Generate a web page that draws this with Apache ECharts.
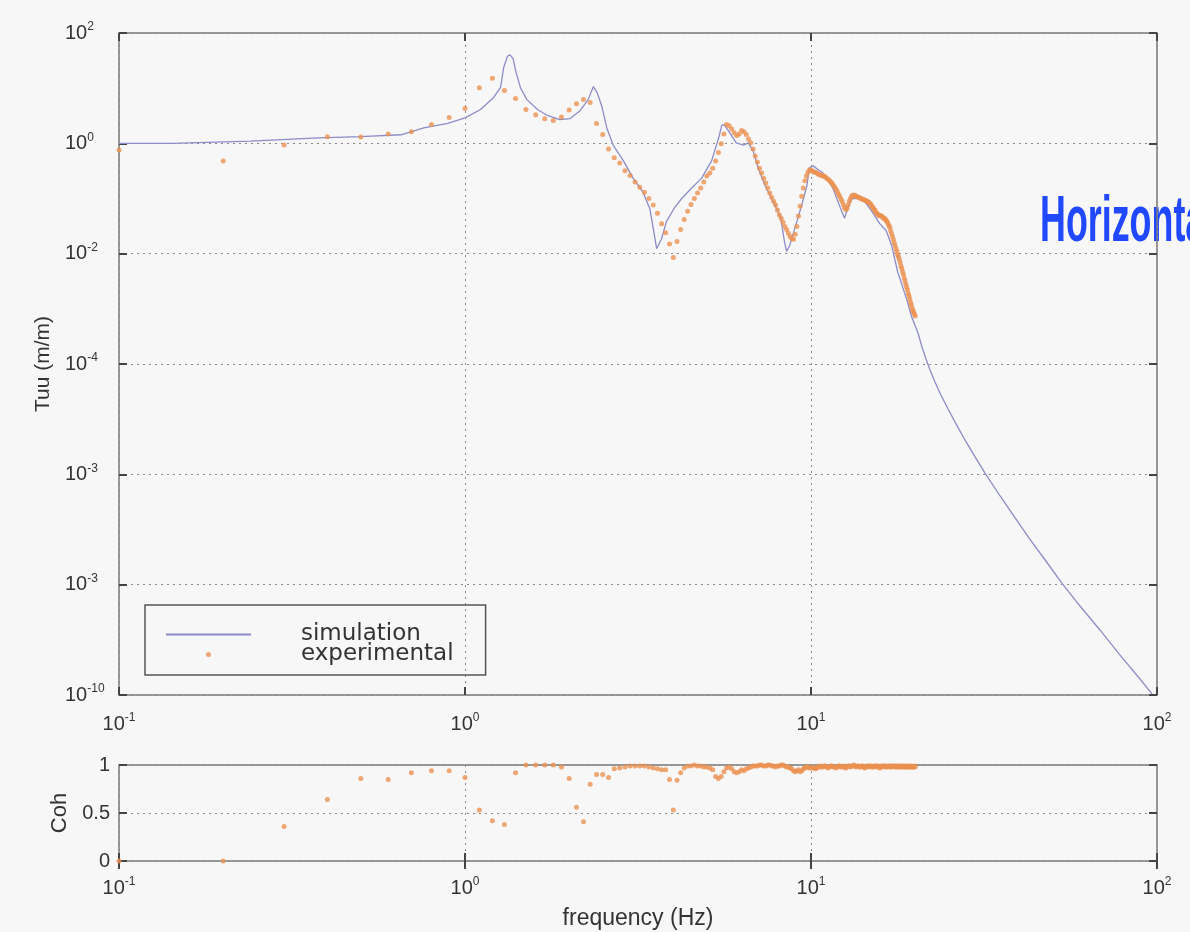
<!DOCTYPE html>
<html>
<head>
<meta charset="utf-8">
<script src="https://cdn.jsdelivr.net/npm/echarts@6/dist/echarts.min.js"></script>
<style>
  html, body { margin: 0; padding: 0; background: #f7f7f7; }
  #chart { width: 1190px; height: 932px; }
</style>
</head>
<body>
<div id="chart"></div>
<script>
// ---------- data ----------
// x tick exponents / superscripts (base 10)
const xTickExps = [-1, 0, 1, 2];
const xTickSup = ['-1', '0', '1', '2'];
// y tick exponents / superscripts as printed on the figure
const yTickExps = [-10, -8, -6, -4, -2, 0, 2];
const yTickSup = ['-10', '-3', '-3', '-4', '-2', '0', '2'];
const cohTicks = [0, 0.5, 1];

// simulation curve (frequency Hz, Tuu)
const simFreq = [0.1, 0.142, 0.24, 0.377, 0.5, 0.653, 0.76, 0.892, 1.0, 1.109, 1.21, 1.267, 1.294, 1.327, 1.35, 1.378, 1.40, 1.446, 1.51, 1.62, 1.73, 1.88, 2.01, 2.15, 2.27, 2.35, 2.41, 2.49, 2.57, 2.68, 2.87, 3.06, 3.26, 3.42, 3.49, 3.58, 3.70, 3.82, 4.02, 4.23, 4.52, 4.83, 5.16, 5.41, 5.52, 5.6, 5.77, 6.08, 6.38, 6.59, 6.81, 7.04, 7.36, 7.77, 8.18, 8.38, 8.50, 8.68, 8.98, 9.4, 9.74, 9.87, 10.13, 10.83, 11.56, 12.26, 12.51, 12.76, 13.1, 14.1, 14.98, 15.8, 16.5, 17.1, 17.8, 18.9, 19.5, 20.38, 20.93, 21.5, 22.08, 22.82, 23.59, 24.9, 26.25, 27.86, 29.8, 31.8, 35.2, 38.9, 42.9, 47.5, 53.1, 59.9, 68.4, 78.2, 89.3, 96.7];
const simTuu = [1.0, 1.0, 1.1, 1.26, 1.32, 1.43, 1.9, 2.3, 2.9, 4.1, 6.8, 10.3, 24, 38, 40, 34, 21, 10.2, 6.2, 4.1, 3.2, 2.7, 2.8, 3.9, 6.2, 10.7, 8.3, 4.5, 1.9, 0.93, 0.48, 0.234, 0.135, 0.066, 0.032, 0.0123, 0.0186, 0.038, 0.066, 0.10, 0.155, 0.234, 0.48, 1.26, 2.09, 2.19, 1.70, 1.02, 0.93, 1.02, 0.72, 0.355, 0.174, 0.089, 0.044, 0.0166, 0.011, 0.0141, 0.0288, 0.076, 0.174, 0.355, 0.39, 0.29, 0.155, 0.059, 0.044, 0.066, 0.10, 0.10, 0.059, 0.035, 0.026, 0.0141, 0.0047, 0.0015, 7.4e-4, 3.65e-4, 2.03e-4, 1.23e-4, 7.8e-5, 4.72e-5, 2.99e-5, 1.53e-5, 8.2e-6, 4.2e-6, 2.07e-6, 1.06e-6, 4.05e-7, 1.62e-7, 6.7e-8, 2.8e-8, 1.07e-8, 4.1e-9, 1.51e-9, 5.3e-10, 1.95e-10, 1.05e-10];

// experimental points (0.1 Hz spacing)
const expFreq = [
  0.1, 0.2, 0.3, 0.4, 0.5, 0.6, 0.7, 0.8, 0.9, 1.0,
  1.1, 1.2, 1.3, 1.4, 1.5, 1.6, 1.7, 1.8, 1.9, 2.0,
  2.1, 2.2, 2.3, 2.4, 2.5, 2.6, 2.7, 2.8, 2.9, 3.0,
  3.1, 3.2, 3.3, 3.4, 3.5, 3.6, 3.7, 3.8, 3.9, 4.0,
  4.1, 4.2, 4.3, 4.4, 4.5, 4.6, 4.7, 4.8, 4.9, 5.0,
  5.1, 5.2, 5.3, 5.4, 5.5, 5.6, 5.7, 5.8, 5.9, 6.0,
  6.1, 6.2, 6.3, 6.4, 6.5, 6.6, 6.7, 6.8, 6.9, 7.0,
  7.1, 7.2, 7.3, 7.4, 7.5, 7.6, 7.7, 7.8, 7.9, 8.0,
  8.1, 8.2, 8.3, 8.4, 8.5, 8.6, 8.7, 8.8, 8.9, 9.0,
  9.1, 9.2, 9.3, 9.4, 9.5, 9.6, 9.7, 9.8, 9.9, 10.0,
  10.1, 10.2, 10.3, 10.4, 10.5, 10.6, 10.7, 10.8, 10.9, 11.0,
  11.1, 11.2, 11.3, 11.4, 11.5, 11.6, 11.7, 11.8, 11.9, 12.0,
  12.1, 12.2, 12.3, 12.4, 12.5, 12.6, 12.7, 12.8, 12.9, 13.0,
  13.1, 13.2, 13.3, 13.4, 13.5, 13.6, 13.7, 13.8, 13.9, 14.0,
  14.1, 14.2, 14.3, 14.4, 14.5, 14.6, 14.7, 14.8, 14.9, 15.0,
  15.1, 15.2, 15.3, 15.4, 15.5, 15.6, 15.7, 15.8, 15.9, 16.0,
  16.1, 16.2, 16.3, 16.4, 16.5, 16.6, 16.7, 16.8, 16.9, 17.0,
  17.1, 17.2, 17.3, 17.4, 17.5, 17.6, 17.7, 17.8, 17.9, 18.0,
  18.1, 18.2, 18.3, 18.4, 18.5, 18.6, 18.7, 18.8, 18.9, 19.0,
  19.1, 19.2, 19.3, 19.4, 19.5, 19.6, 19.7, 19.8, 19.9, 20.0
];
const expTuu = [
  0.76, 0.48, 0.93, 1.32, 1.30, 1.48, 1.62, 2.19, 2.95, 4.27,
  10.2, 15.1, 9.1, 6.5, 4.1, 3.3, 2.8, 2.6, 3.0, 4.0,
  5.2, 6.2, 5.5, 2.3, 1.45, 0.79, 0.55, 0.44, 0.32, 0.26,
  0.20, 0.16, 0.13, 0.10, 0.076, 0.054, 0.035, 0.024, 0.015, 0.0085,
  0.0166, 0.0275, 0.0417, 0.059, 0.078, 0.100, 0.126, 0.155, 0.20, 0.257,
  0.29, 0.355, 0.48, 0.68, 0.98, 1.48, 2.19, 2.09, 1.82, 1.55,
  1.38, 1.48, 1.70, 1.62, 1.45, 1.20, 1.02, 0.79, 0.59, 0.46,
  0.355, 0.29, 0.234, 0.19, 0.155, 0.126, 0.105, 0.089, 0.076, 0.062,
  0.051, 0.044, 0.037, 0.031, 0.0275, 0.0234, 0.0204, 0.0186, 0.0182, 0.0224,
  0.031, 0.048, 0.072, 0.11, 0.155, 0.21, 0.257, 0.30, 0.33, 0.33,
  0.316, 0.30, 0.30, 0.29, 0.275, 0.27, 0.263, 0.257, 0.255, 0.245,
  0.234, 0.224, 0.214, 0.20, 0.19, 0.174, 0.162, 0.148, 0.135, 0.12,
  0.11, 0.098, 0.089, 0.078, 0.069, 0.063, 0.066, 0.076, 0.089, 0.10,
  0.11, 0.115, 0.115, 0.114, 0.11, 0.108, 0.105, 0.104, 0.10, 0.099,
  0.097, 0.096, 0.093, 0.092, 0.089, 0.088, 0.085, 0.081, 0.078, 0.072,
  0.069, 0.063, 0.062, 0.056, 0.054, 0.052, 0.049, 0.049, 0.048, 0.048,
  0.046, 0.044, 0.044, 0.042, 0.040, 0.038, 0.035, 0.032, 0.030, 0.026,
  0.023, 0.0204, 0.018, 0.0158, 0.0141, 0.0123, 0.011, 0.0096, 0.0088, 0.0078,
  0.0069, 0.0060, 0.0054, 0.0047, 0.0042, 0.0036, 0.0032, 0.0028, 0.0025, 0.0022,
  0.0019, 0.0017, 0.0015, 0.0013, 0.00117, 0.00102, 0.00093, 0.00087, 0.00081, 0.00074
];
const expCoh = [
  0.0, 0.0, 0.36, 0.64, 0.86, 0.85, 0.92, 0.94, 0.94, 0.87,
  0.53, 0.42, 0.38, 0.92, 1.0, 1.0, 1.0, 1.0, 0.98, 0.86,
  0.56, 0.41, 0.80, 0.90, 0.90, 0.87, 0.96, 0.97, 0.98, 0.99,
  0.99, 0.99, 0.99, 0.98, 0.97, 0.96, 0.95, 0.95, 0.85, 0.53,
  0.84, 0.92, 0.97, 0.99, 0.99, 1.0, 0.99, 0.99, 0.98, 0.98,
  0.97, 0.95, 0.88, 0.86, 0.88, 0.93, 0.97, 0.98, 0.96, 0.93,
  0.92, 0.93, 0.95, 0.94, 0.96, 0.97, 0.98, 0.99, 0.99, 0.99,
  1.0, 1.0, 0.99, 0.99, 1.0, 1.0, 0.99, 0.99, 0.98, 0.99,
  0.99, 1.0, 1.0, 0.99, 0.98, 0.98, 0.97, 0.96, 0.94, 0.93,
  0.94, 0.95, 0.93, 0.94, 0.96, 0.97, 0.98, 0.98, 0.97, 0.97,
  0.98, 0.97, 0.96, 0.97, 0.98, 0.99, 0.98, 0.98, 0.99, 0.99,
  0.98, 0.97, 0.98, 0.99, 0.99, 0.98, 0.98, 0.97, 0.98, 0.99,
  0.99, 0.98, 0.98, 0.99, 0.98, 0.97, 0.98, 0.99, 0.99, 0.98,
  0.99, 0.99, 1.0, 0.99, 0.98, 0.99, 0.99, 0.98, 0.98, 0.99,
  0.99, 0.98, 0.97, 0.98, 0.99, 0.99, 0.98, 0.99, 0.99, 0.98,
  0.98, 0.99, 0.99, 0.98, 0.99, 0.99, 0.98, 0.97, 0.98, 0.99,
  0.99, 0.98, 0.99, 0.99, 0.98, 0.98, 0.99, 0.99, 0.98, 0.98,
  0.99, 0.99, 0.98, 0.99, 0.99, 0.98, 0.98, 0.99, 0.99, 0.98,
  0.98, 0.99, 0.99, 0.98, 0.98, 0.99, 0.98, 0.98, 0.99, 0.98,
  0.98, 0.99, 0.98, 0.98, 0.99, 0.98, 0.98, 0.98, 0.99, 0.98
];

// ---------- chart ----------
const FONT = "'Liberation Sans', Arial, Helvetica, sans-serif";
const LEG_FONT = "'DejaVu Sans', 'Liberation Sans', sans-serif";
const TXT = '#333333';
const SIM_COLOR = '#8c8cc8';
const EXP_COLOR = '#eb9150';

const rich = {
  b: { fontSize: 20, fontFamily: FONT, color: TXT, lineHeight: 24 },
  s: { fontSize: 12, fontFamily: FONT, color: TXT, lineHeight: 12, verticalAlign: 'top' }
};
function xLab(v) {
  const e = Math.round(Math.log10(v));
  const i = xTickExps.indexOf(e);
  return '{b|10}{s|' + (i >= 0 ? xTickSup[i] : e) + '}';
}
function yLab(v) {
  const e = Math.round(Math.log10(v));
  const i = yTickExps.indexOf(e);
  return '{b|10}{s|' + (i >= 0 ? yTickSup[i] : e) + '}';
}

const gridLine = { show: true, lineStyle: { color: '#8a8a8a', width: 1, type: [2, 4] } };
const tickIn = { show: true, inside: true, length: 8, lineStyle: { color: '#444', width: 2 } };

const G0 = { left: 119, top: 33, width: 1038, height: 662 };
const G1 = { left: 119, top: 765, width: 1038, height: 96 };

const logX = (gi, extra) => Object.assign({
  type: 'log', logBase: 10, gridIndex: gi, min: 0.1, max: 100, interval: 1,
  axisLine: { show: false }, axisTick: tickIn, splitLine: gridLine,
  minorTick: { show: false }, minorSplitLine: { show: false }
}, extra);

const option = {
  backgroundColor: '#f7f7f7',
  animation: false,
  grid: [
    Object.assign({ show: true, borderColor: '#7a7a7a', borderWidth: 1.5, backgroundColor: 'transparent' }, G0),
    Object.assign({ show: true, borderColor: '#7a7a7a', borderWidth: 1.5, backgroundColor: 'transparent' }, G1)
  ],
  legend: {
    orient: 'vertical',
    left: 145, top: 605,
    padding: [18, 32, 9, 20],
    borderColor: '#555', borderWidth: 1.5,
    itemWidth: 85, itemHeight: 5, itemGap: -3,
    selectedMode: false,
    data: [
      { name: 'simulation', itemStyle: { opacity: 0 } },
      { name: 'experimental' }
    ],
    textStyle: { fontFamily: LEG_FONT, fontSize: 23, color: TXT, padding: [0, 0, 0, 45] }
  },
  xAxis: [
    logX(0, { position: 'bottom', axisLabel: { formatter: xLab, rich: rich, margin: 17, showMinLabel: true, showMaxLabel: true, hideOverlap: false } }),
    logX(1, { position: 'bottom', name: 'frequency (Hz)', nameLocation: 'middle', nameGap: 46,
      nameTextStyle: { fontFamily: FONT, fontSize: 23, color: TXT },
      axisLabel: { formatter: xLab, rich: rich, margin: 15, showMinLabel: true, showMaxLabel: true, hideOverlap: false } }),
    logX(0, { position: 'top', axisLabel: { show: false }, splitLine: { show: false } }),
    logX(1, { position: 'top', axisLabel: { show: false }, splitLine: { show: false } })
  ],
  yAxis: [
    {
      type: 'log', logBase: 10, gridIndex: 0, min: 1e-10, max: 1e2, interval: 2,
      name: 'Tuu (m/m)', nameLocation: 'middle', nameGap: 60, nameRotate: 90,
      nameTextStyle: { fontFamily: FONT, fontSize: 21, color: TXT },
      axisLine: { show: false }, axisTick: tickIn, splitLine: gridLine,
      minorTick: { show: false },
      axisLabel: { formatter: yLab, rich: rich, margin: 54, align: 'left', showMinLabel: true, showMaxLabel: true, hideOverlap: false }
    },
    {
      type: 'value', gridIndex: 1, min: 0, max: 1, interval: 0.5,
      name: 'Coh', nameLocation: 'middle', nameGap: 43, nameRotate: 90,
      nameTextStyle: { fontFamily: FONT, fontSize: 22, color: TXT },
      axisLine: { show: false }, axisTick: tickIn, splitLine: gridLine,
      axisLabel: { fontFamily: FONT, fontSize: 20, color: TXT, margin: 9,
        formatter: v => String(cohTicks[cohTicks.indexOf(v)] ?? v) }
    },
    {
      type: 'log', logBase: 10, gridIndex: 0, min: 1e-10, max: 1e2, interval: 2, position: 'right',
      axisLine: { show: false }, axisTick: tickIn, splitLine: { show: false }, axisLabel: { show: false }
    },
    {
      type: 'value', gridIndex: 1, min: 0, max: 1, interval: 0.5, position: 'right',
      axisLine: { show: false }, axisTick: tickIn, splitLine: { show: false }, axisLabel: { show: false }
    }
  ],
  graphic: [
    {
      type: 'text', x: 1040, y: 223, scaleX: 0.56, scaleY: 1, z: -10, silent: true,
      style: { text: 'Horizontal', x: 0, y: 0, fontFamily: FONT, fontSize: 64, fontWeight: 'bold',
        fill: '#1f48ff', align: 'left', verticalAlign: 'middle' }
    }
  ],
  series: [
    {
      name: 'simulation', type: 'line', xAxisIndex: 0, yAxisIndex: 0,
      data: simFreq.map((f, i) => [f, simTuu[i]]),
      showSymbol: false, symbol: 'none', clip: true,
      lineStyle: { color: SIM_COLOR, width: 1.3 }, itemStyle: { color: SIM_COLOR }, z: 3
    },
    {
      name: 'experimental', type: 'scatter', xAxisIndex: 0, yAxisIndex: 0,
      data: expFreq.map((f, i) => [f, expTuu[i]]),
      symbol: 'circle', symbolSize: 5, itemStyle: { color: EXP_COLOR }, z: 4
    },
    {
      name: 'coherence', type: 'scatter', xAxisIndex: 1, yAxisIndex: 1,
      data: expFreq.map((f, i) => [f, expCoh[i]]),
      symbol: 'circle', symbolSize: 5, itemStyle: { color: EXP_COLOR }, z: 4
    }
  ]
};

const chart = echarts.init(document.getElementById('chart'), null, { renderer: 'canvas' });
chart.setOption(option);
</script>
</body>
</html>
